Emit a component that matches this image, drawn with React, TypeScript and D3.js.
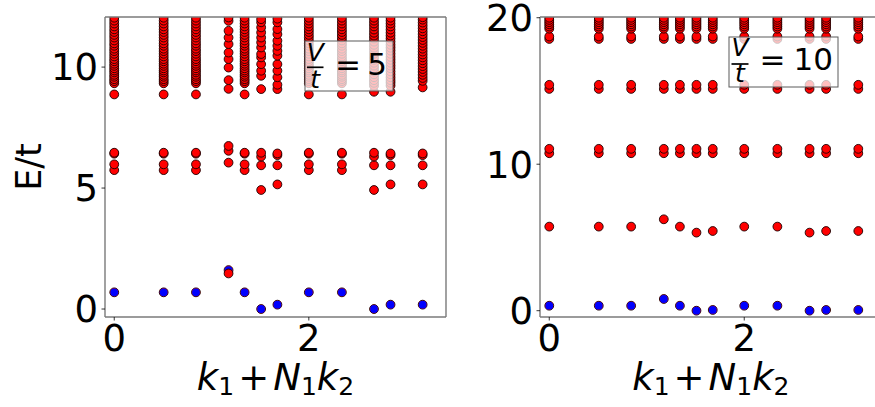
import React from 'react';
import * as d3 from 'd3';

// momentum index positions (shared by both panels)
const kValues = [0, 0.508, 0.84, 1.175, 1.34, 1.51, 1.677, 2.0, 2.34, 2.67, 2.84, 3.17];
const xTicks = [0, 2];
const leftYTicks = [0, 5, 10];
const rightYTicks = [0, 10, 20];

// ---- V/t = 5 ----
const groundV5 = [0.69, 0.69, 0.69, 1.61, 0.69, 0.0, 0.18, 0.69, 0.69, 0.0, 0.18, 0.18];
const midA5 = [5.74, 5.98, 6.42, 6.46];
const midB5 = [1.47, 6.05, 6.54, 6.74];
const midC5 = [4.92, 5.94, 6.30, 6.46];
const midD5 = [5.15, 5.94, 6.36, 6.43];
const bandA5 = [8.87, 9.33, 9.42, 9.5, 9.6, 9.68, 9.78, 9.86, 9.95, 10.05, 10.14, 10.24, 10.33, 10.44, 10.55, 10.66, 10.76, 10.88, 10.98, 11.1, 11.22, 11.33, 11.45, 11.56, 11.68, 11.8, 11.92, 12.04];
const bandB5 = [9.1, 9.46, 9.98, 10.33, 10.6, 10.95, 11.22, 11.5, 11.91, 12.05];
const bandC5 = [9.09, 9.64, 9.85, 10.12, 10.4, 10.54, 10.81, 11.02, 11.22, 11.43, 11.64, 11.85, 11.98];
const bandD5 = [9.09, 9.27, 9.58, 9.85, 10.12, 10.47, 10.67, 10.88, 11.09, 11.36, 11.57, 11.85, 12.0];
const bandE5 = [8.98, 9.23, 9.35, 9.46, 9.58, 9.7, 9.82, 9.95, 10.06, 10.18, 10.3, 10.42, 10.55, 10.68, 10.8, 10.92, 11.05, 11.18, 11.3, 11.42, 11.55, 11.68, 11.8, 11.92, 12.04];
const bandF5 = [9.16, 9.43, 9.55, 9.68, 9.8, 9.92, 10.04, 10.16, 10.28, 10.4, 10.52, 10.64, 10.76, 10.88, 11.0, 11.12, 11.24, 11.36, 11.48, 11.6, 11.72, 11.84, 11.96, 12.06];
const excitedV5 = [
  [...midA5, ...bandA5],
  [...midA5, ...bandA5],
  [...midA5, ...bandA5],
  [...midB5, ...bandB5],
  [...midA5, ...bandA5],
  [...midC5, ...bandC5],
  [...midD5, ...bandD5],
  [...midA5, ...bandA5],
  [...midA5, ...bandA5],
  [...midC5, ...bandE5],
  [...midD5, ...bandE5],
  [...midD5, ...bandF5],
];

// ---- V/t = 10 ----
const groundV10 = [0.34, 0.34, 0.34, 0.8, 0.34, 0.0, 0.05, 0.34, 0.34, 0.0, 0.05, 0.05];
const level2V10 = [5.74, 5.74, 5.74, 6.24, 5.74, 5.33, 5.44, 5.74, 5.74, 5.33, 5.44, 5.44];
const level3V10 = [10.75, 11.05];
const level4V10 = [15.14, 15.42];
const level5V10 = [18.55, 18.72];
const topV10 = [19.25, 19.4, 19.55, 19.7, 19.85, 20.0];
const excitedV10 = kValues.map((_, i) => [level2V10[i], ...level3V10, ...level4V10, ...level5V10, ...topV10]);

const FONT = '"DejaVu Sans", sans-serif';

type PanelProps = {
  id: string;
  left: number;
  right: number;
  yDomain: [number, number];
  yTicks: number[];
  ground: number[];
  excited: number[][];
  legendValue: string;
  legend: { x0: number; x1: number; y0: number; y1: number; fx: number; fw: number; vBase: number; bar: number; tBase: number; eqX: number; valX: number; valBase: number };
  showYLabel?: boolean;
};

const TOP = 17;
const BOTTOM = 317;

function Panel(p: PanelProps) {
  const x = d3.scaleLinear().domain([-0.095, 3.41]).range([p.left, p.right]);
  const y = d3.scaleLinear().domain(p.yDomain).range([BOTTOM, TOP]);
  const cx = (p.left + p.right) / 2;
  const L = p.legend;
  return (
    <g>
      <defs>
        <clipPath id={p.id}>
          <rect x={p.left} y={TOP} width={p.right - p.left} height={BOTTOM - TOP} />
        </clipPath>
      </defs>
      <g clipPath={`url(#${p.id})`}>
        {p.ground.map((e, i) => (
          <circle key={'gr' + i} cx={x(kValues[i])} cy={y(e)} r={4.4} fill="#ff0000" stroke="#1a0000" strokeWidth={0.9} />
        ))}
        {p.ground.map((e, i) => (
          <circle key={'gb' + i} cx={x(kValues[i])} cy={y(e)} r={3.9} fill="#0000ff" />
        ))}
        {p.excited.map((col, i) =>
          col.map((e, j) => (
            <circle key={'e' + i + '_' + j} cx={x(kValues[i])} cy={y(e)} r={4.4} fill="#ff0000" stroke="#1a0000" strokeWidth={0.9} />
          ))
        )}
      </g>
      <g stroke="#7a7a7a" strokeWidth={1.4} fill="none">
        <line x1={p.left} y1={TOP} x2={p.left} y2={BOTTOM} />
        <line x1={p.right} y1={TOP} x2={p.right} y2={BOTTOM} />
        <line x1={p.left} y1={TOP} x2={p.right} y2={TOP} />
        <line x1={p.left} y1={BOTTOM} x2={p.right} y2={BOTTOM} />
      </g>
      {p.yTicks.map((t) => (
        <g key={'yt' + t}>
          <line x1={p.left - 3.5} x2={p.left} y1={y(t)} y2={y(t)} stroke="#000" strokeWidth={0.8} />
          <text x={p.left - 7} y={y(t)} dy="0.36em" textAnchor="end" fontSize={37} fontFamily={FONT} fill="#000">{t}</text>
        </g>
      ))}
      {xTicks.map((t) => (
        <g key={'xt' + t}>
          <line x1={x(t)} x2={x(t)} y1={BOTTOM} y2={BOTTOM + 3.5} stroke="#000" strokeWidth={0.8} />
          <text x={x(t)} y={351} textAnchor="middle" fontSize={37} fontFamily={FONT} fill="#000">{t}</text>
        </g>
      ))}
      <text x={cx} y={390} textAnchor="middle" fontSize={37} fontFamily={FONT} fill="#000">
        <tspan fontStyle="italic">k</tspan>
        <tspan fontSize={25} dy={5}>1</tspan>
        <tspan dy={-5} dx={4}>+</tspan>
        <tspan fontStyle="italic" dx={4}>N</tspan>
        <tspan fontSize={25} dy={5}>1</tspan>
        <tspan fontStyle="italic" dy={-5}>k</tspan>
        <tspan fontSize={25} dy={5}>2</tspan>
      </text>
      <rect x={L.x0} y={L.y0} width={L.x1 - L.x0} height={L.y1 - L.y0} fill="#ffffff" fillOpacity={0.75} stroke="#5a5a5a" strokeWidth={1} />
      <text x={L.fx + L.fw / 2} y={L.vBase} textAnchor="middle" fontSize={25} fontStyle="italic" fontFamily={FONT} fill="#000">V</text>
      <line x1={L.fx} x2={L.fx + L.fw} y1={L.bar} y2={L.bar} stroke="#000" strokeWidth={1.7} />
      <text x={L.fx + L.fw / 2} y={L.tBase} textAnchor="middle" fontSize={25} fontStyle="italic" fontFamily={FONT} fill="#000">t</text>
      <text x={L.eqX} y={L.valBase} textAnchor="middle" fontSize={31} fontFamily={FONT} fill="#000">=</text>
      <text x={L.valX} y={L.valBase} textAnchor="middle" fontSize={31} fontFamily={FONT} fill="#000">{p.legendValue}</text>
      {p.showYLabel && (
        <text transform={`translate(41,${(TOP + BOTTOM) / 2}) rotate(-90)`} textAnchor="middle" fontSize={35} fontFamily={FONT} fill="#000">E/t</text>
      )}
    </g>
  );
}

export default function App() {
  return (
    <svg width={875} height={407} style={{ position: 'fixed', left: 0, top: 0, background: '#fff' }}>
      <rect x={0} y={0} width={875} height={407} fill="#fff" />
      <Panel
        id="clipL"
        left={105}
        right={446}
        yDomain={[-0.33, 12.07]}
        yTicks={leftYTicks}
        ground={groundV5}
        excited={excitedV5}
        legendValue="5"
        showYLabel
        legend={{ x0: 305, x1: 393, y0: 41, y1: 91, fx: 307, fw: 16.5, vBase: 61, bar: 67.3, tBase: 88, eqX: 348, valX: 377, valBase: 75 }}
      />
      <Panel
        id="clipR"
        left={540}
        right={881.7}
        yDomain={[-0.43, 20.05]}
        yTicks={rightYTicks}
        ground={groundV10}
        excited={excitedV10}
        legendValue="10"
        legend={{ x0: 729, x1: 838, y0: 37, y1: 87, fx: 731.5, fw: 17, vBase: 56, bar: 64, tBase: 82.3, eqX: 772.5, valX: 813.3, valBase: 70 }}
      />
    </svg>
  );
}
